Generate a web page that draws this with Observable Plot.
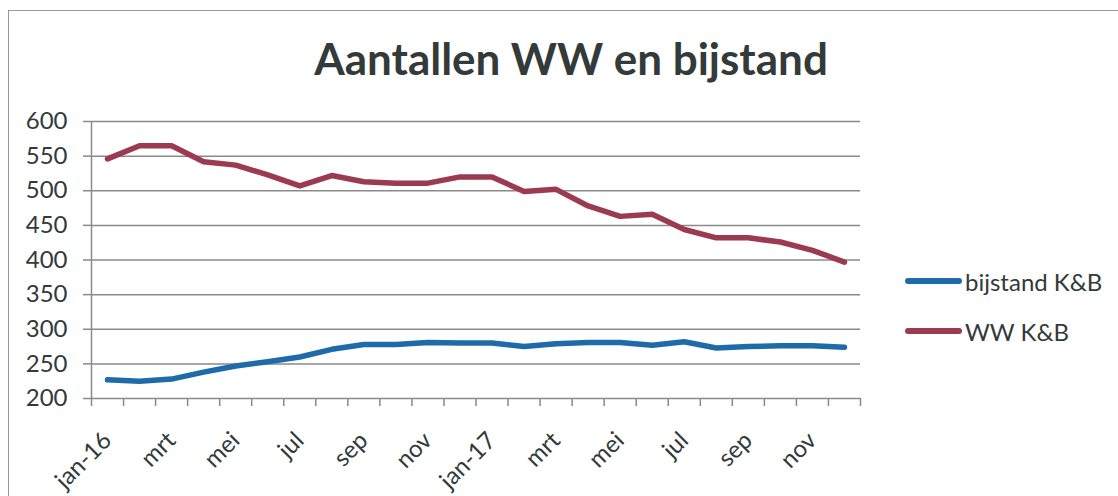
<!DOCTYPE html>
<html>
<head>
<meta charset="utf-8">
<script src="https://cdn.jsdelivr.net/npm/d3@7"></script>
<script src="https://cdn.jsdelivr.net/npm/@observablehq/plot@0.6"></script>
<style>
  html, body { margin: 0; padding: 0; background: #fff; }
  #wrap { position: relative; width: 1118px; height: 496px; overflow: hidden; font-family: Lato, "Open Sans", sans-serif; }
  #frame { position: absolute; left: 8px; top: 10px; width: 1200px; height: 600px; border: 1px solid #9a9a9a; box-sizing: border-box; }
  #title { position: absolute; left: 0; top: 36px; width: 1118px; padding-left: 24px; box-sizing: border-box; text-align: center; font-weight: 700; font-size: 44px; color: #333a3a; line-height: 1; }
  #chart { position: absolute; left: 0; top: 0; }
  #legend { position: absolute; left: 905px; top: 256px; font-size: 24px; color: #333a3a; }
  .item { display: flex; align-items: center; height: 50px; }
  .swatch { width: 57px; height: 6px; border-radius: 3px; margin-right: 3px; }
</style>
</head>
<body>
<div id="wrap">
  <div id="frame"></div>
  <div id="chart"></div>
  <div id="title">Aantallen WW en bijstand</div>
  <div id="legend"></div>
</div>
<script>
// Months jan-16 .. dec-17
const months = ["jan-16","feb","mrt","apr","mei","jun","jul","aug","sep","okt","nov","dec",
                "jan-17","feb","mrt","apr","mei","jun","jul","aug","sep","okt","nov","dec"];
const seriesNames = ["bijstand K&B", "WW K&B"];
const bijstand = [227,225,228,238,247,253,260,271,278,278,281,280,
                  280,275,279,281,281,277,282,273,275,276,276,274];
const ww = [546,565,565,542,537,523,507,522,513,511,511,520,
            520,499,502,478,463,466,444,432,432,426,414,397];
const yTicks = [200,250,300,350,400,450,500,550,600];
const colors = ["#1f6aa9", "#9b3a50"];

const rows = [];
months.forEach((m, i) => {
  rows.push({i, month: m, series: seriesNames[0], value: bijstand[i]});
  rows.push({i, month: m, series: seriesNames[1], value: ww[i]});
});
const labelIdx = d3.range(0, months.length, 2);
const boundaries = d3.range(-0.5, months.length, 1);
const gridColor = "#8a8a8a";
const textColor = "#333a3a";

const chart = Plot.plot({
  width: 1118,
  height: 496,
  marginLeft: 91,
  marginRight: 258,
  marginTop: 121,
  marginBottom: 98,
  style: {fontFamily: "Lato, 'Open Sans', sans-serif", background: "transparent", overflow: "visible"},
  x: {type: "linear", domain: [-0.5, months.length - 0.5]},
  y: {domain: [200, 600]},
  color: {domain: seriesNames, range: colors},
  marks: [
    Plot.gridY(yTicks, {stroke: gridColor, strokeOpacity: 1, strokeWidth: 1.5}),
    Plot.ruleX([-0.5], {stroke: gridColor, strokeWidth: 1.5}),
    Plot.axisY(yTicks, {tickSize: 8, tickPadding: 16, stroke: gridColor, strokeWidth: 1.5, fontSize: 24, fill: textColor, label: null}),
    Plot.axisX(boundaries, {tickSize: 8, tickFormat: () => "", stroke: gridColor, strokeWidth: 1.5, label: null}),
    Plot.axisX(labelIdx, {tickSize: 0, tickPadding: 38, tickRotate: -45, tickFormat: i => months[i], fontSize: 24, fill: textColor, textAnchor: "end", label: null}),
    Plot.line(rows, {x: "i", y: "value", z: "series", stroke: "series", strokeWidth: 5.5, strokeLinejoin: "round", strokeLinecap: "round"})
  ]
});
document.getElementById("chart").appendChild(chart);

const legend = document.getElementById("legend");
seriesNames.forEach((name, k) => {
  const item = document.createElement("div");
  item.className = "item";
  const sw = document.createElement("div");
  sw.className = "swatch";
  sw.style.background = colors[k];
  const lab = document.createElement("span");
  lab.textContent = name;
  item.appendChild(sw);
  item.appendChild(lab);
  legend.appendChild(item);
});
</script>
</body>
</html>
